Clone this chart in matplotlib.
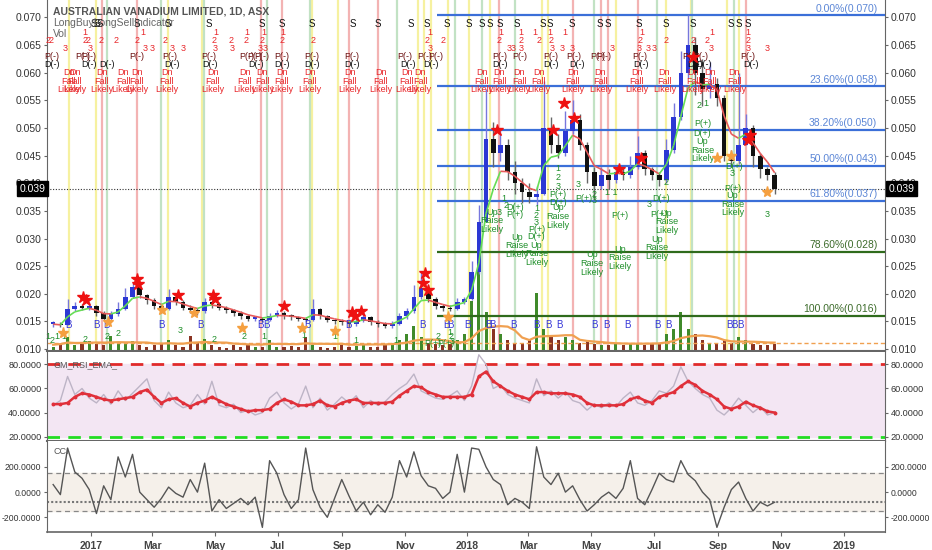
import matplotlib
matplotlib.use("Agg")
import matplotlib.pyplot as plt
import matplotlib.dates as mdates
import matplotlib.transforms as mtransforms
from matplotlib.collections import LineCollection
import numpy as np
import pandas as pd

plt.rcParams["font.family"] = ["Liberation Sans", "DejaVu Sans"]

# weekly bars (week ending Friday)
week_end = pd.date_range("2016-11-25", periods=101, freq="7D")
close = [0.0145, 0.0143, 0.0172, 0.0178, 0.0175, 0.0178, 0.0165, 0.0155, 0.0163, 0.0172,
         0.0195, 0.0212, 0.0198, 0.0188, 0.0178, 0.0172, 0.0195, 0.0185, 0.0175, 0.0170,
         0.0168, 0.0185, 0.0182, 0.0175, 0.0170, 0.0165, 0.0160, 0.0155, 0.0155, 0.0152,
         0.0160, 0.0165, 0.0160, 0.0158, 0.0155, 0.0152, 0.0172, 0.0160, 0.0152, 0.0150,
         0.0148, 0.0145, 0.0150, 0.0158, 0.0148, 0.0145, 0.0142, 0.0145, 0.0160, 0.0168,
         0.0195, 0.0210, 0.0190, 0.0178, 0.0175, 0.0172, 0.0185, 0.0190, 0.0240, 0.0330,
         0.0480, 0.0455, 0.0470, 0.0420, 0.0400, 0.0385, 0.0375, 0.0380, 0.0500, 0.0470,
         0.0455, 0.0495, 0.0515, 0.0470, 0.0420, 0.0395, 0.0415, 0.0405, 0.0420, 0.0415,
         0.0430, 0.0455, 0.0425, 0.0415, 0.0405, 0.0460, 0.0520, 0.0600, 0.0650, 0.0600,
         0.0570, 0.0580, 0.0555, 0.0450, 0.0440, 0.0470, 0.0500, 0.0450, 0.0425, 0.0415,
         0.0390]
high = [0.0150, 0.0148, 0.0190, 0.0185, 0.0182, 0.0185, 0.0180, 0.0168, 0.0168, 0.0185,
        0.0210, 0.0222, 0.0215, 0.0200, 0.0192, 0.0180, 0.0208, 0.0198, 0.0188, 0.0180,
        0.0175, 0.0192, 0.0188, 0.0185, 0.0178, 0.0172, 0.0168, 0.0162, 0.0160, 0.0158,
        0.0165, 0.0170, 0.0168, 0.0163, 0.0160, 0.0158, 0.0190, 0.0175, 0.0162, 0.0155,
        0.0155, 0.0152, 0.0155, 0.0170, 0.0160, 0.0152, 0.0148, 0.0150, 0.0165, 0.0175,
        0.0215, 0.0240, 0.0215, 0.0195, 0.0182, 0.0180, 0.0192, 0.0195, 0.0260, 0.0360,
        0.0570, 0.0510, 0.0500, 0.0480, 0.0440, 0.0410, 0.0400, 0.0395, 0.0585, 0.0520,
        0.0490, 0.0530, 0.0550, 0.0525, 0.0475, 0.0430, 0.0430, 0.0425, 0.0432, 0.0430,
        0.0450, 0.0485, 0.0460, 0.0430, 0.0420, 0.0480, 0.0545, 0.0640, 0.0705, 0.0665,
        0.0625, 0.0620, 0.0590, 0.0560, 0.0460, 0.0600, 0.0525, 0.0505, 0.0455, 0.0430,
        0.0420]
low = [0.0140, 0.0140, 0.0143, 0.0168, 0.0170, 0.0170, 0.0160, 0.0150, 0.0152, 0.0160,
       0.0170, 0.0192, 0.0192, 0.0182, 0.0172, 0.0165, 0.0170, 0.0180, 0.0170, 0.0165,
       0.0162, 0.0165, 0.0175, 0.0170, 0.0165, 0.0160, 0.0155, 0.0150, 0.0150, 0.0148,
       0.0150, 0.0158, 0.0155, 0.0152, 0.0150, 0.0148, 0.0150, 0.0155, 0.0148, 0.0145,
       0.0143, 0.0140, 0.0142, 0.0148, 0.0143, 0.0140, 0.0138, 0.0138, 0.0143, 0.0155,
       0.0165, 0.0190, 0.0185, 0.0172, 0.0168, 0.0168, 0.0170, 0.0182, 0.0188, 0.0235,
       0.0330, 0.0430, 0.0440, 0.0405, 0.0380, 0.0365, 0.0365, 0.0360, 0.0378, 0.0455,
       0.0445, 0.0450, 0.0490, 0.0460, 0.0400, 0.0370, 0.0390, 0.0390, 0.0400, 0.0405,
       0.0410, 0.0425, 0.0415, 0.0405, 0.0395, 0.0400, 0.0455, 0.0515, 0.0590, 0.0560,
       0.0540, 0.0555, 0.0540, 0.0440, 0.0430, 0.0435, 0.0470, 0.0430, 0.0410, 0.0405,
       0.0380]
# volume, drawn as bar height in thousandths on the price scale
volume = [0.8, 1.2, 2.5, 1.0, 1.5, 1.8, 1.2, 1.0, 2.8, 1.5,
          1.2, 1.8, 1.0, 0.8, 1.0, 1.2, 2.0, 1.0, 0.8, 2.8,
          1.5, 2.2, 1.0, 0.8, 0.6, 1.0, 0.8, 1.2, 0.7, 0.8,
          2.0, 0.8, 0.7, 0.9, 0.7, 2.5, 1.0, 0.8, 0.6, 0.7,
          1.0, 0.8, 0.9, 1.2, 0.7, 0.8, 1.0, 1.5, 2.0, 3.0,
          4.5, 2.5, 1.5, 1.2, 1.0, 1.2, 2.0, 3.0, 9.0, 15.5,
          7.0, 4.0, 3.0, 2.0, 1.5, 1.5, 2.0, 10.5, 4.0, 2.5,
          2.0, 2.5, 2.0, 1.5, 1.8, 1.2, 1.0, 1.0, 1.2, 1.0,
          1.5, 1.2, 1.0, 1.2, 1.5, 3.0, 4.0, 7.0, 4.0, 3.0,
          2.0, 1.5, 1.5, 2.0, 1.5, 2.5, 2.0, 1.2, 1.0, 1.0,
          1.2]
rsi_raw = [46, 50, 70, 55, 60, 52, 48, 55, 47, 58, 50, 56, 62, 68, 50, 44, 57, 48, 44, 46,
           55, 47, 66, 46, 44, 47, 40, 42, 38, 40, 52, 57, 48, 43, 47, 62, 44, 52, 42, 47,
           53, 48, 54, 44, 50, 46, 49, 55, 60, 64, 72, 58, 55, 52, 51, 54, 58, 50, 62, 88,
           80, 60, 63, 55, 52, 50, 48, 68, 54, 58, 52, 57, 50, 48, 42, 47, 44, 48, 45, 52,
           57, 48, 46, 50, 58, 56, 62, 78, 66, 60, 55, 52, 42, 38, 44, 52, 46, 40, 45, 38,
           40]
rsi_ema = [47, 47, 48, 53, 56, 55, 53, 51, 50, 51, 52, 53, 57, 59, 53, 48, 51, 52, 48, 45,
           48, 50, 53, 50, 47, 45, 43, 41, 42, 42, 43, 48, 51, 49, 46, 46, 47, 50, 46, 45,
           48, 50, 51, 48, 48, 48, 48, 49, 54, 58, 62, 61, 57, 55, 53, 53, 53, 53, 55, 70,
           74, 66, 62, 58, 55, 53, 51, 57, 57, 56, 56, 56, 55, 53, 48, 46, 46, 46, 46, 47,
           51, 53, 50, 48, 53, 55, 57, 62, 66, 63, 58, 55, 51, 45, 43, 45, 49, 46, 44, 41,
           40]
cci = [60, -20, 350, 160, 110, 20, -170, 50, -60, 280, 120, 300, 0, -60, -120, -50, 40, -10, -40, 100,
       0, 230, -150, -60, -130, -90, -50, -100, -40, -280, 250, 150, -20, -130, -60, 350, 20, -120, -200, -50,
       100, -30, -150, -80, -180, -100, -160, -40, 250, 120, 320, 130, 50, 30, -50, 0, 300, 0, 350, 340,
       200, 100, 60, -100, -50, -80, -130, 360, 120, 60, 150, 0, 50, -60, -150, -100, -40, 0, -50, 30,
       250, -50, -100, 20, 150, 100, 80, 250, 140, 90, 0, -60, -280, -120, 20, 80, -50, -150, -80, -110,
       -80]

last_price = 0.039
fib_ratios = [0.0, 0.236, 0.382, 0.5, 0.618, 0.786, 1.0]
fib_high, fib_low = 0.0704, 0.016
fib_start = "2017-12-02"

vline_yellow = ["2016-12-10", "2017-01-06", "2017-03-16", "2017-04-18", "2017-08-03", "2017-08-28",
                "2017-11-14", "2017-11-20", "2017-11-27", "2017-12-13", "2018-01-02", "2018-01-23",
                "2018-03-14", "2018-03-20", "2018-05-25", "2018-07-13", "2018-08-06", "2018-09-10",
                "2018-09-21"]
vline_green = ["2017-01-16", "2017-03-10", "2017-04-20", "2017-06-20", "2017-08-01", "2017-10-25",
               "2017-12-20", "2018-01-15", "2018-02-16", "2018-05-04", "2018-07-04", "2018-08-07",
               "2018-09-17"]
vline_red = ["2017-01-11", "2017-02-14", "2017-06-15", "2017-07-05", "2017-09-08", "2017-10-06",
             "2018-02-01", "2018-04-13", "2018-05-11", "2018-05-17", "2018-06-15", "2018-09-28"]

# sell-side labels
sell_s = ["2017-01-03", "2017-01-06", "2017-01-09", "2017-02-14", "2017-03-16", "2017-04-25",
          "2017-06-15", "2017-07-05", "2017-08-03", "2017-09-12", "2017-10-06", "2017-11-07",
          "2017-11-23", "2017-12-12", "2018-01-02", "2018-01-15", "2018-01-23", "2018-02-01",
          "2018-02-18", "2018-03-15", "2018-03-22", "2018-04-12", "2018-05-09", "2018-05-17",
          "2018-06-16", "2018-07-12", "2018-08-08", "2018-09-13", "2018-09-21", "2018-09-30"]
sell_1 = ["2016-12-26", "2017-02-20", "2017-05-02", "2017-06-01", "2017-06-17", "2017-07-06",
          "2017-11-25", "2018-02-02", "2018-02-22", "2018-03-07", "2018-03-22", "2018-04-05",
          "2018-06-19", "2018-08-26", "2018-09-30"]
sell_2 = ["2016-11-20", "2016-11-23", "2016-12-26", "2016-12-29", "2017-01-10", "2017-01-25",
          "2017-02-14", "2017-03-14", "2017-04-30", "2017-05-17", "2017-05-31", "2017-06-16",
          "2017-07-05", "2017-08-04", "2017-11-23", "2017-12-08", "2018-02-01", "2018-02-22",
          "2018-03-11", "2018-03-23", "2018-06-17", "2018-07-13", "2018-08-08", "2018-08-21",
          "2018-09-30"]
sell_3 = ["2016-12-07", "2016-12-31", "2017-02-22", "2017-03-01", "2017-03-20", "2017-03-31",
          "2017-05-01", "2017-05-18", "2017-06-14", "2017-06-19", "2017-11-26", "2018-02-10",
          "2018-02-14", "2018-02-22", "2018-03-24", "2018-04-03", "2018-04-13", "2018-05-21",
          "2018-06-17", "2018-06-25", "2018-07-01", "2018-08-25", "2018-09-30", "2018-10-19"]
sell_p = ["2016-11-24", "2016-12-24", "2016-12-30", "2017-02-14", "2017-03-18", "2017-04-25",
          "2017-06-01", "2017-06-09", "2017-06-15", "2017-07-05", "2017-08-03", "2017-09-11",
          "2017-11-01", "2017-11-21", "2017-12-01", "2018-02-01", "2018-02-21", "2018-03-23",
          "2018-04-14", "2018-05-07", "2018-05-13", "2018-06-17", "2018-08-05", "2018-08-15",
          "2018-09-30"]
sell_d = ["2016-11-24", "2016-12-30", "2017-01-16", "2017-03-20", "2017-04-26", "2017-06-10",
          "2017-07-05", "2017-08-03", "2017-09-11", "2017-11-04", "2017-11-27", "2018-02-02",
          "2018-03-23", "2018-04-17", "2018-06-18", "2018-08-10", "2018-08-18", "2018-10-03"]
sell_fall = ["2016-12-10", "2016-12-16", "2017-01-11", "2017-02-01", "2017-02-14", "2017-03-15",
             "2017-04-29", "2017-05-30", "2017-06-16", "2017-07-05", "2017-08-01", "2017-09-09",
             "2017-10-09", "2017-11-03", "2017-11-16", "2018-01-15", "2018-02-01", "2018-02-20",
             "2018-03-11", "2018-04-13", "2018-05-10", "2018-06-14", "2018-07-11", "2018-08-08",
             "2018-08-24", "2018-09-17"]

# buy-side labels
buy_b = ["2016-12-10", "2017-01-06", "2017-01-16", "2017-03-10", "2017-04-17", "2017-06-14",
         "2017-06-20", "2017-07-30", "2017-09-07", "2017-11-18", "2017-12-12", "2017-12-15",
         "2018-01-01", "2018-01-21", "2018-01-25", "2018-02-15", "2018-03-09", "2018-03-21",
         "2018-03-31", "2018-05-04", "2018-05-16", "2018-06-05", "2018-07-04", "2018-07-15",
         "2018-09-12", "2018-09-17", "2018-09-23"]
buy_text = [("2018-01-25", 0.0332, "Up\nRaise\nLikely"), ("2018-02-05", 0.0373, "1"),
            ("2018-02-07", 0.0360, "2"), ("2018-02-01", 0.0347, "3"),
            ("2018-02-16", 0.0356, "D(+)"), ("2018-02-16", 0.0343, "P(+)"),
            ("2018-02-18", 0.0287, "Up\nRaise\nLikely"), ("2018-03-09", 0.0355, "1"),
            ("2018-03-09", 0.0342, "2"), ("2018-03-09", 0.0329, "3"),
            ("2018-03-09", 0.0316, "P(+)"), ("2018-03-09", 0.0303, "D(+)"),
            ("2018-03-09", 0.0272, "Up\nRaise\nLikely"), ("2018-03-30", 0.0426, "1"),
            ("2018-03-30", 0.0410, "2"), ("2018-03-30", 0.0395, "3"),
            ("2018-03-30", 0.0380, "P(+)"), ("2018-03-30", 0.0366, "D(+)"),
            ("2018-03-30", 0.0340, "Up\nRaise\nLikely"), ("2018-04-18", 0.0398, "3"),
            ("2018-04-24", 0.0372, "P(+)"), ("2018-05-02", 0.0255, "Up\nRaise\nLikely"),
            ("2018-05-04", 0.0380, "2"), ("2018-05-04", 0.0368, "3"),
            ("2018-05-29", 0.0341, "P(+)"), ("2018-05-29", 0.0265, "Up\nRaise\nLikely"),
            ("2018-05-20", 0.0383, "1 1"), ("2018-06-26", 0.0362, "3"),
            ("2018-07-04", 0.0283, "Up\nRaise\nLikely"), ("2018-07-08", 0.0372, "D(+)"),
            ("2018-07-06", 0.0343, "P(+)"), ("2018-07-13", 0.0330, "Up\nRaise\nLikely"),
            ("2018-07-13", 0.0402, "2"), ("2018-08-17", 0.0508, "P(+)"),
            ("2018-08-17", 0.0490, "D(+)"), ("2018-08-17", 0.0460, "Up\nRaise\nLikely"),
            ("2018-08-14", 0.0540, "2"), ("2018-08-20", 0.0545, "1"),
            ("2018-09-15", 0.0390, "P(+)"), ("2018-09-15", 0.0362, "Up\nRaise\nLikely"),
            ("2018-09-17", 0.0430, "D(+)"), ("2018-09-15", 0.0418, "3"),
            ("2018-10-19", 0.0343, "3"),
            ("2016-11-20", 0.0122, "1"), ("2016-11-24", 0.0115, "2"), ("2016-11-29", 0.0122, "1"),
            ("2016-12-05", 0.0122, "1"), ("2016-12-26", 0.0118, "2"), ("2017-01-16", 0.0122, "2"),
            ("2017-01-27", 0.0128, "2"), ("2017-03-28", 0.0133, "3"), ("2017-04-30", 0.0118, "2"),
            ("2017-05-29", 0.0122, "2"), ("2017-06-17", 0.0122, "1"), ("2017-07-26", 0.0125, "1"),
            ("2017-08-25", 0.0123, "1"), ("2017-09-15", 0.0115, "1"), ("2017-10-23", 0.0115, "1"),
            ("2017-12-03", 0.0123, "2"), ("2017-12-15", 0.0130, "1"), ("2017-12-16", 0.0122, "2"),
            ("2017-12-17", 0.0114, "3"), ("2017-11-28", 0.0110, "P(+)"), ("2017-12-11", 0.0110, "P(+)")]
sell_stars = [("2016-12-24", 0.0195), ("2016-12-27", 0.0188), ("2017-02-14", 0.0227),
              ("2017-02-15", 0.0217), ("2017-03-26", 0.0198), ("2017-04-29", 0.0198),
              ("2017-05-01", 0.0190), ("2017-07-07", 0.0177), ("2017-09-11", 0.0167),
              ("2017-09-14", 0.0160), ("2017-09-20", 0.0168), ("2017-11-19", 0.0220),
              ("2017-11-21", 0.0237), ("2017-11-24", 0.0207), ("2018-01-30", 0.0497),
              ("2018-03-25", 0.0497), ("2018-04-05", 0.0546), ("2018-04-14", 0.0518),
              ("2018-05-28", 0.0426), ("2018-06-18", 0.0445), ("2018-08-08", 0.0628),
              ("2018-09-30", 0.0478), ("2018-10-02", 0.0488)]
buy_stars = [("2016-12-05", 0.0129), ("2017-01-17", 0.0149), ("2017-03-11", 0.0171),
             ("2017-04-11", 0.0165), ("2017-05-27", 0.0138), ("2017-07-24", 0.0138),
             ("2017-08-25", 0.0133), ("2017-12-13", 0.0158), ("2018-08-31", 0.0446),
             ("2018-09-14", 0.0450), ("2018-10-19", 0.0385)]

x_ticks = ["2017-01-01", "2017-03-01", "2017-05-01", "2017-07-01", "2017-09-01", "2017-11-01",
           "2018-01-01", "2018-03-01", "2018-05-01", "2018-07-01", "2018-09-01", "2018-11-01",
           "2019-01-01"]
x_labels = ["2017", "Mar", "May", "Jul", "Sep", "Nov", "2018", "Mar", "May", "Jul", "Sep", "Nov", "2019"]

RED = "#e8262a"
GREEN = "#1f8f2a"
AXC = "#666666"
x_lo, x_hi = pd.Timestamp("2016-11-19"), pd.Timestamp("2019-02-10")

fig = plt.figure(figsize=(9.32, 5.5), dpi=100)
ax = fig.add_axes([0.0504, 0.3618, 0.8991, 0.6382])
ax_rsi = fig.add_axes([0.0504, 0.1982, 0.8991, 0.1618])
ax_cci = fig.add_axes([0.0504, 0.0322, 0.8991, 0.1660])

for a, fs in ((ax, 7.5), (ax_rsi, 6.6), (ax_cci, 6.2)):
    a.set_xlim(x_lo, x_hi)
    for side in ("left", "right", "bottom", "top"):
        a.spines[side].set_color(AXC)
    a.spines["top"].set_visible(False)
    a.tick_params(axis="y", which="both", left=True, right=True, labelleft=True, labelright=True,
                  labelsize=fs, length=2.5, pad=1.5, colors=AXC, labelcolor="#333333")
    a.tick_params(axis="x", bottom=False, labelbottom=False)
ax.spines["bottom"].set_linewidth(1.5)
ax_rsi.spines["bottom"].set_linewidth(1.5)

# ---- main price panel ----
ax.set_ylim(0.00964, 0.07316)
ax.set_yticks(np.arange(0.010, 0.0701, 0.005))
ax.yaxis.set_major_formatter(matplotlib.ticker.FormatStrFormatter("%.3f"))

for dates, col in ((vline_yellow, "#f6f1a0"), (vline_green, "#c2e2c4"), (vline_red, "#f3b3b3")):
    for d in dates:
        ax.axvline(pd.Timestamp(d), color=col, lw=1.6, zorder=0)

opens = [close[0]] + close[:-1]
up = [c >= o for o, c in zip(opens, close)]

vol_base = 0.00964
vol_h = np.array(volume) * 0.001
vol_cols = ["#3f8a2a" if u else "#8a3322" for u in up]
ax.bar(week_end, vol_h, bottom=vol_base, width=3.0, color=vol_cols, zorder=1)
vol_ma = pd.Series(vol_h).rolling(6, min_periods=1).mean()
ax.plot(week_end, vol_base + 0.55 * vol_ma + 0.0007, color="#f0a050", lw=1.6, zorder=2)
ax.axhline(0.0111, color="#f0a050", lw=1.0, ls=(0, (3, 2)), zorder=2)

# fib levels
ax_tr = mtransforms.blended_transform_factory(ax.transAxes, ax.transData)
for r in fib_ratios:
    lvl = fib_high - r * (fib_high - fib_low)
    col = "#3b6fd8" if r < 0.7 else "#2f6b1c"
    tcol = "#5b86d6" if r < 0.7 else "#3c6b2a"
    ax.hlines(lvl, pd.Timestamp(fib_start), x_hi, color=col, lw=1.6, zorder=3)
    ax.text(0.991, lvl + 0.0003, f"{r * 100:.2f}%({lvl:.3f})", transform=ax_tr,
            ha="right", va="bottom", fontsize=7.5, color=tcol, zorder=7)

# candles
for d, o, c, h, l, u in zip(week_end, opens, close, high, low, up):
    col = "#2c38d4" if u else "#111111"
    ax.vlines(d, l, h, color="#7777dd" if u else "#666666", lw=1.0, zorder=4)
    ax.bar(d, max(abs(c - o), 0.0003), bottom=min(o, c), width=4.5, color=col, zorder=5)

ema = pd.Series(close).ewm(span=4).mean().to_numpy()
xn = mdates.date2num(week_end)
segs = [[(xn[i], ema[i]), (xn[i + 1], ema[i + 1])] for i in range(len(xn) - 1)]
seg_cols = ["#e85a5a" if close[i + 1] < ema[i + 1] else "#66dd55" for i in range(len(xn) - 1)]
ax.add_collection(LineCollection(segs, colors=seg_cols, linewidths=1.2, zorder=5))

ax.axhline(last_price, color="#333333", lw=0.8, ls=(0, (1, 1.5)), zorder=3)
for xa, ha in ((-0.002, "right"), (1.004, "left")):
    ax.text(xa, last_price, f"{last_price:.3f}", transform=ax_tr, ha=ha, va="center",
            fontsize=7.5, color="white", zorder=8, clip_on=False,
            bbox=dict(boxstyle="square,pad=0.25", facecolor="black", edgecolor="black"))

# signal labels
def put(dates, y, s, color, size=6.5):
    for d in dates:
        ax.text(pd.Timestamp(d), y, s, color=color, fontsize=size, ha="center", va="center",
                linespacing=0.95, zorder=6)

put(sell_s, 0.0688, "S", "#111111", 7)
put(sell_1, 0.0673, "1", RED)
put(sell_2, 0.0658, "2", RED)
put(sell_3, 0.0644, "3", RED)
put(sell_p, 0.0630, "P(-)", "#6b1010")
put(sell_d, 0.0614, "D(-)", "#111111")
put(sell_fall, 0.0585, "Dn\nFall\nLikely", RED)
put(buy_b, 0.0144, "B", "#3535d8", 7)
for d, y, s in buy_text:
    put([d], y, s, GREEN)
for d, y in sell_stars:
    ax.plot(pd.Timestamp(d), y, marker="*", ms=9, color="#ee1111", zorder=7)
for d, y in buy_stars:
    ax.plot(pd.Timestamp(d), y, marker="*", ms=8, color="#f5a040", zorder=7)

fig.text(53 / 932, 1 - 11 / 550, "AUSTRALIAN VANADIUM LIMITED, 1D, ASX", fontsize=7.5,
         fontweight="bold", color="#555555", va="center")
fig.text(53 / 932, 1 - 23 / 550, "LongBuyLongSellIndicator", fontsize=7.5, color="#666666", va="center")
fig.text(53 / 932, 1 - 34 / 550, "Vol", fontsize=7.5, color="#666666", va="center")

# ---- RSI panel ----
ax_rsi.set_ylim(16.4, 90.3)
ax_rsi.set_yticks([20, 40, 60, 80])
ax_rsi.yaxis.set_major_formatter(matplotlib.ticker.FormatStrFormatter("%.4f"))
ax_rsi.axhspan(20, 80, color="#f3e6f3", zorder=0)
ax_rsi.axhline(80, color="#e02a2a", lw=2.0, ls=(0, (4.5, 3)), zorder=2)
ax_rsi.axhline(20, color="#22dd22", lw=2.0, ls=(0, (4.5, 3)), zorder=2)
ax_rsi.plot(week_end, rsi_raw, color="#bdb4c6", lw=1.0, zorder=3)
ax_rsi.plot(week_end, rsi_ema, color="#e0303a", lw=1.8, marker="o", ms=1.8, zorder=4)
ax_rsi.text(0.008, 80, "GM_RSI_EMA_", transform=mtransforms.blended_transform_factory(
    ax_rsi.transAxes, ax_rsi.transData), fontsize=6.5, color="#555555", va="center", zorder=5)

# ---- CCI panel ----
ax_cci.set_ylim(-319, 406)
ax_cci.set_yticks([-200, 0, 200])
ax_cci.yaxis.set_major_formatter(matplotlib.ticker.FormatStrFormatter("%.4f"))
ax_cci.axhspan(-150, 150, color="#f5f0ea", zorder=0)
ax_cci.axhline(150, color="#888888", lw=0.9, ls=(0, (4, 3)), zorder=1)
ax_cci.axhline(-150, color="#888888", lw=0.9, ls=(0, (4, 3)), zorder=1)
ax_cci.axhline(-82, color="#777777", lw=1.5, ls=(0, (1, 1)), zorder=1)
ax_cci.plot(week_end, cci, color="#555555", lw=1.0, zorder=3)
ax_cci.text(0.008, 0.93, "CCI", transform=ax_cci.transAxes, fontsize=6.5, color="#555555", va="top")
ax_cci.spines["bottom"].set_linewidth(1.2)
ax_cci.tick_params(axis="x", bottom=True, labelbottom=True, length=3, colors=AXC,
                   labelcolor="#444444", labelsize=7.5)
ax_cci.set_xticks([pd.Timestamp(t) for t in x_ticks])
ax_cci.set_xticklabels(x_labels, fontweight="bold")

fig.savefig("out.png", dpi=100)
